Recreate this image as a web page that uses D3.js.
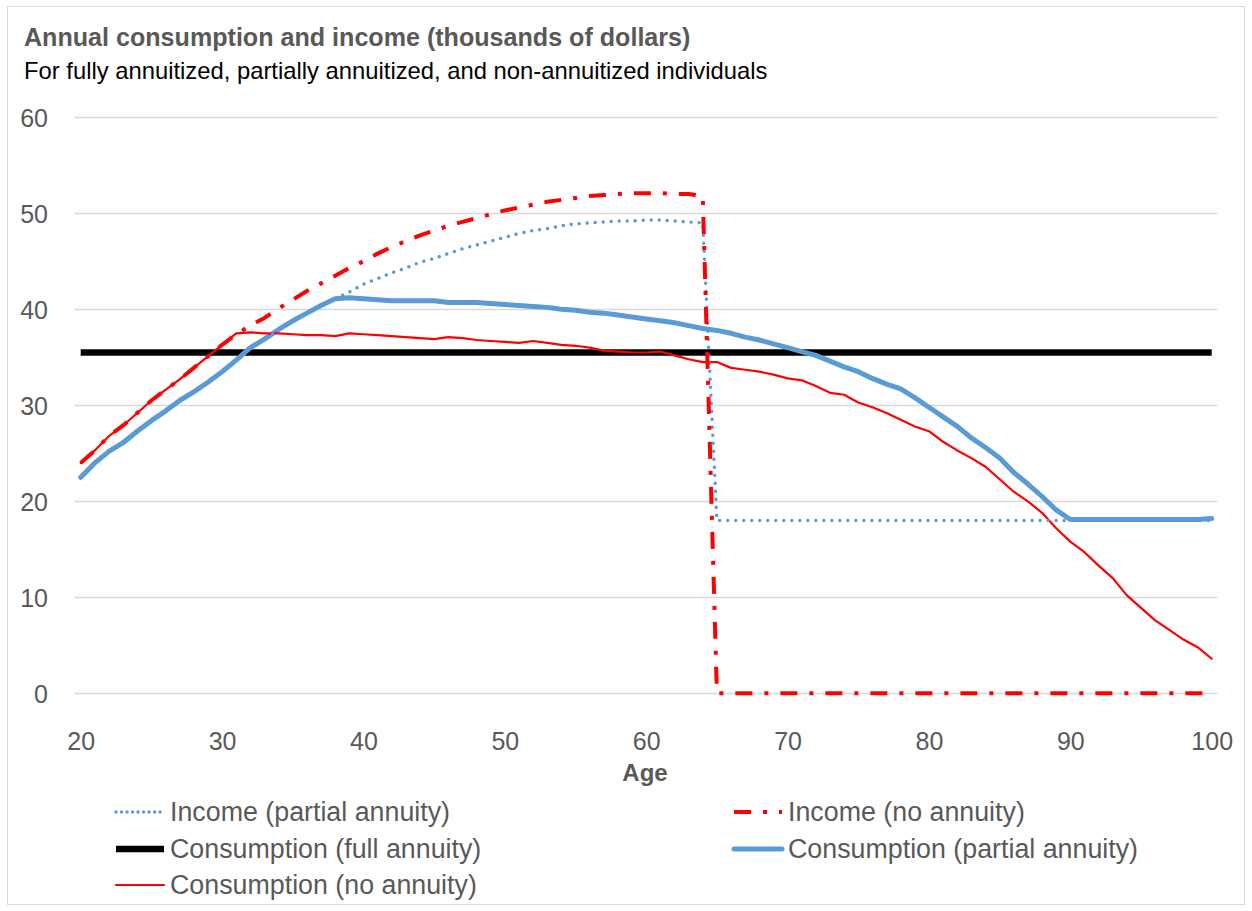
<!DOCTYPE html>
<html>
<head>
<meta charset="utf-8">
<script src="https://cdn.jsdelivr.net/npm/d3@7"></script>
<style>
  html, body { margin: 0; padding: 0; background: #fff; }
  svg text { font-family: "Liberation Sans", Arial, sans-serif; }
</style>
</head>
<body>
<svg id="chart" width="1252" height="911"></svg>
<script>
// Ages 20..100, one value per year
const ages = d3.range(20, 101);

const incomePartialAnnuity = [
  22.5, 24.0, 25.2, 26.1, 27.3, 28.4, 29.4, 30.5, 31.4, 32.4,
  33.5, 34.7, 36.0, 36.9, 37.9, 38.8, 39.6, 40.4, 41.1, 41.8,
  42.6, 43.2, 43.8, 44.3, 44.9, 45.3, 45.8, 46.3, 46.7, 47.1,
  47.5, 47.9, 48.2, 48.4, 48.7, 48.9, 49.0, 49.1, 49.2, 49.2,
  49.3, 49.3, 49.2, 49.1, 49.0,
  18.0, 18.0, 18.0, 18.0, 18.0, 18.0, 18.0, 18.0, 18.0, 18.0,
  18.0, 18.0, 18.0, 18.0, 18.0, 18.0, 18.0, 18.0, 18.0, 18.0,
  18.0, 18.0, 18.0, 18.0, 18.0, 18.0, 18.0, 18.0, 18.0, 18.0,
  18.0, 18.0, 18.0, 18.0, 18.0, 18.0
];

const incomeNoAnnuity = [
  24.0, 25.3, 26.8, 27.9, 29.2, 30.5, 31.6, 32.7, 33.9, 35.1,
  36.3, 37.4, 38.3, 39.1, 40.1, 41.0, 41.9, 42.7, 43.5, 44.3,
  45.0, 45.8, 46.5, 47.1, 47.7, 48.2, 48.7, 49.1, 49.5, 49.9,
  50.3, 50.6, 50.9, 51.2, 51.4, 51.6, 51.8, 51.9, 52.0, 52.1,
  52.1, 52.1, 52.0, 52.0, 51.8,
  0, 0, 0, 0, 0, 0, 0, 0, 0, 0,
  0, 0, 0, 0, 0, 0, 0, 0, 0, 0,
  0, 0, 0, 0, 0, 0, 0, 0, 0, 0,
  0, 0, 0, 0, 0, 0
];

const consumptionFullAnnuity = [
  35.5, 35.5, 35.5, 35.5, 35.5, 35.5, 35.5, 35.5, 35.5, 35.5,
  35.5, 35.5, 35.5, 35.5, 35.5, 35.5, 35.5, 35.5, 35.5, 35.5,
  35.5, 35.5, 35.5, 35.5, 35.5, 35.5, 35.5, 35.5, 35.5, 35.5,
  35.5, 35.5, 35.5, 35.5, 35.5, 35.5, 35.5, 35.5, 35.5, 35.5,
  35.5, 35.5, 35.5, 35.5, 35.5, 35.5, 35.5, 35.5, 35.5, 35.5,
  35.5, 35.5, 35.5, 35.5, 35.5, 35.5, 35.5, 35.5, 35.5, 35.5,
  35.5, 35.5, 35.5, 35.5, 35.5, 35.5, 35.5, 35.5, 35.5, 35.5,
  35.5, 35.5, 35.5, 35.5, 35.5, 35.5, 35.5, 35.5, 35.5, 35.5,
  35.5
];

const consumptionPartialAnnuity = [
  22.5, 24.0, 25.2, 26.1, 27.3, 28.4, 29.4, 30.5, 31.4, 32.4,
  33.5, 34.7, 36.0, 36.9, 37.9, 38.8, 39.6, 40.4, 41.1, 41.2,
  41.1, 41.0, 40.9, 40.9, 40.9, 40.9, 40.7, 40.7, 40.7, 40.6,
  40.5, 40.4, 40.3, 40.2, 40.0, 39.9, 39.7, 39.6, 39.4, 39.2,
  39.0, 38.8, 38.6, 38.3, 38.0, 37.8, 37.5, 37.1, 36.8, 36.4,
  36.0, 35.6, 35.2, 34.6, 34.0, 33.5, 32.8, 32.2, 31.7, 30.8,
  29.8, 28.8, 27.8, 26.6, 25.6, 24.5, 23.0, 21.8, 20.5, 19.1,
  18.1, 18.1, 18.1, 18.1, 18.1, 18.1, 18.1, 18.1, 18.1, 18.1,
  18.2
];

const consumptionNoAnnuity = [
  24.0, 25.3, 26.8, 27.9, 29.2, 30.5, 31.6, 32.7, 33.9, 35.1,
  36.3, 37.5, 37.6, 37.5, 37.5, 37.4, 37.3, 37.3, 37.2, 37.5,
  37.4, 37.3, 37.2, 37.1, 37.0, 36.9, 37.1, 37.0, 36.8, 36.7,
  36.6, 36.5, 36.7, 36.5, 36.3, 36.2, 36.0, 35.7, 35.6, 35.5,
  35.5, 35.6, 35.2, 34.8, 34.5, 34.5, 33.9, 33.7, 33.5, 33.2,
  32.8, 32.6, 32.0, 31.3, 31.1, 30.3, 29.8, 29.2, 28.5, 27.8,
  27.3, 26.2, 25.3, 24.5, 23.6, 22.3, 21.0, 20.0, 18.8, 17.2,
  15.8, 14.7, 13.3, 12.0, 10.2, 8.9, 7.6, 6.6, 5.6, 4.8,
  3.6
];

const xTicks = [20, 30, 40, 50, 60, 70, 80, 90, 100];
const yTicks = [0, 10, 20, 30, 40, 50, 60];

const titleText = "Annual consumption and income (thousands of dollars)";
const subtitleText = "For fully annuitized, partially annuitized, and non-annuitized individuals";
const xAxisTitle = "Age";

// Series styling, in drawing order (bottom to top)
const series = [
  { name: "Consumption (full annuity)",    values: consumptionFullAnnuity,    color: "#000000", width: 6.5, dash: null, cap: "butt", legendDash: null },
  { name: "Consumption (partial annuity)", values: consumptionPartialAnnuity, color: "#5B9BD5", width: 5,   dash: null, cap: "round", legendDash: null },
  { name: "Consumption (no annuity)",      values: consumptionNoAnnuity,      color: "#FF0000", width: 2.2, dash: null, cap: "round", legendDash: null },
  { name: "Income (partial annuity)",      values: incomePartialAnnuity,      color: "#5B9BD5", width: 3.4, dash: "0.01 8", cap: "round", legendDash: "0.01 5.5" },
  { name: "Income (no annuity)",           values: incomeNoAnnuity,           color: "#FF0000", width: 4,   dash: "17 12 4 12", cap: "butt", legendDash: "17 12 4 12" }
];

const svg = d3.select("#chart");

// chart frame
svg.append("rect")
  .attr("x", 7.5).attr("y", 6.5)
  .attr("width", 1237).attr("height", 898)
  .attr("fill", "#fff").attr("stroke", "#d9d9d9").attr("stroke-width", 1);

const x = d3.scaleLinear().domain([20, 100]).range([80.7, 1211.7]);
const y = d3.scaleLinear().domain([0, 60]).range([693.3, 117.3]);

// horizontal gridlines
svg.append("g")
  .selectAll("line")
  .data(yTicks)
  .join("line")
  .attr("x1", x(20) - 6.5).attr("x2", x(100) + 5.5)
  .attr("y1", d => Math.round(y(d)) + 0.5).attr("y2", d => Math.round(y(d)) + 0.5)
  .attr("stroke", "#d9d9d9").attr("stroke-width", 1.3);

// y axis labels
const yAxis = d3.axisLeft(y).tickValues(yTicks).tickSize(0).tickPadding(0);
const gy = svg.append("g").attr("transform", "translate(48,0)").call(yAxis);
gy.select(".domain").remove();
gy.selectAll("text")
  .attr("fill", "#595959")
  .style("font-size", "25px")
  .attr("dy", "0.35em");

// x axis labels
const xAxis = d3.axisBottom(x).tickValues(xTicks).tickSize(0).tickPadding(0);
const gx = svg.append("g").attr("transform", "translate(0,732)").call(xAxis);
gx.select(".domain").remove();
gx.selectAll("text")
  .attr("fill", "#595959")
  .style("font-size", "25px")
  .attr("dy", "0.35em")
  .attr("y", 9);

// titles
svg.append("text")
  .attr("x", 24).attr("y", 46)
  .attr("fill", "#595959")
  .style("font-size", "25.1px").style("font-weight", "bold")
  .text(titleText);

svg.append("text")
  .attr("x", 24).attr("y", 79)
  .attr("fill", "#000")
  .style("font-size", "23.8px")
  .text(subtitleText);

svg.append("text")
  .attr("x", 645).attr("y", 773)
  .attr("dy", "0.35em")
  .attr("text-anchor", "middle")
  .attr("fill", "#595959")
  .style("font-size", "24px").style("font-weight", "bold")
  .text(xAxisTitle);

// series lines
const line = d3.line()
  .x((d, i) => x(ages[i]))
  .y(d => y(d));

svg.append("g")
  .selectAll("path")
  .data(series)
  .join("path")
  .attr("d", s => line(s.values))
  .attr("fill", "none")
  .attr("stroke", s => s.color)
  .attr("stroke-width", s => s.width)
  .attr("stroke-linejoin", "round")
  .attr("stroke-linecap", s => s.cap)
  .attr("stroke-dasharray", s => s.dash);

// legend, in two columns
const legendOrder = [
  { key: "Income (partial annuity)",      col: 0, row: 0 },
  { key: "Income (no annuity)",           col: 1, row: 0 },
  { key: "Consumption (full annuity)",    col: 0, row: 1 },
  { key: "Consumption (partial annuity)", col: 1, row: 1 },
  { key: "Consumption (no annuity)",      col: 0, row: 2 }
];
const colX = [116, 734];
const rowY = [812, 849, 885];

const legend = svg.append("g")
  .selectAll("g")
  .data(legendOrder)
  .join("g")
  .attr("transform", d => `translate(${colX[d.col]},${rowY[d.row]})`);

legend.append("line")
  .attr("x1", 0).attr("x2", 48)
  .attr("y1", 0).attr("y2", 0)
  .each(function(d) {
    const s = series.find(v => v.name === d.key);
    d3.select(this)
      .attr("stroke", s.color)
      .attr("stroke-width", s.width)
      .attr("stroke-linecap", s.cap)
      .attr("stroke-dasharray", s.legendDash);
  });

legend.append("text")
  .attr("x", 54)
  .attr("dy", "0.35em")
  .attr("fill", "#595959")
  .style("font-size", "26.8px")
  .text(d => d.key);
</script>
</body>
</html>
